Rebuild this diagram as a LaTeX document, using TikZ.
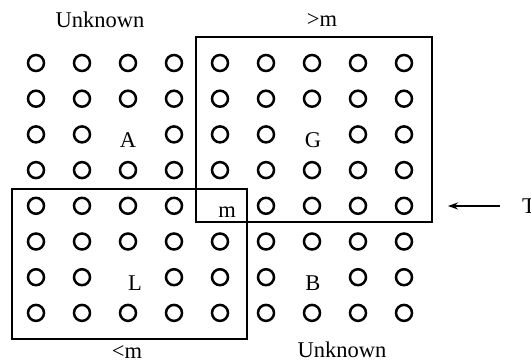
\documentclass[tikz,border=0pt]{standalone}
\usepackage{fontspec}
\setmainfont{Liberation Serif}
\usetikzlibrary{arrows.meta}

\begin{document}
\begin{tikzpicture}[
  x=1pt, y=-1pt,
  font=\fontsize{22.5}{26}\selectfont,
  dot/.style={draw, circle, line width=2.5pt, minimum size=16pt, inner sep=0pt},
  letter/.style={inner sep=0pt, yshift=-6pt},
  part/.style={draw, line width=2.4pt},
  caption/.style={inner sep=0pt},
  >={Stealth[length=10pt,width=7pt]}
]
\useasboundingbox (0,0) rectangle (531,363);
% grid of elements, 9 columns x 8 rows
\foreach \r in {1,...,8}{
  \foreach \c in {1,...,9}{
    \pgfmathtruncatemacro{\skip}{
      (\r==3 && \c==3) || (\r==3 && \c==7) || (\r==7 && \c==3) ||
      (\r==7 && \c==7) || (\r==5 && \c==5)}
    \ifnum\skip=0
      \node[dot] (e\r\c) at ({36+46*(\c-1)}, {63+35.7*(\r-1)}) {};
    \fi
  }
}
\node[letter] (A) at (128,134) {A};
\node[letter] (G) at (313,134) {G};
\node[letter, xshift=7pt] (L) at (128,277) {L};
\node[letter] (B) at (313,277) {B};
\node[letter, xshift=7pt] (m) at (220,206) {m};
% partitions
\draw[part] (196,37) rectangle (432,222);
\draw[part] (12,189) rectangle (247,339);
% captions
\node[caption] (unkA) at (100,20) {Unknown};
\node[caption] (gtm) at (322,20) {>m};
\node[caption] (ltm) at (127,352) {<m};
\node[caption] (unkB) at (342,350) {Unknown};
% pointer
\node[caption, anchor=west] (T) at (522,206) {T};
\coordinate (tip) at (448,206);
\draw[->, line width=1.4pt] ([xshift=-22pt]T.west) -- (tip);
\end{tikzpicture}
\end{document}
